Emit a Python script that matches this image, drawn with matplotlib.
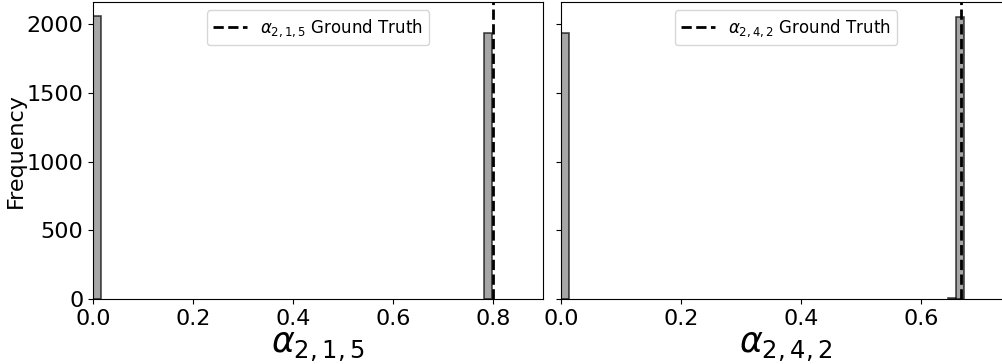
import matplotlib.pyplot as plt
import numpy as np

# histogram counts (bin left edges, counts) for the two sampled parameters
a215_bin_left = [0.0, 0.781]
a215_count = [2063, 1937]
a215_width = 0.016
a215_truth = 0.8

a242_bin_left = [0.0, 0.6447, 0.658]
a242_count = [1937, 5, 2057]
a242_width = 0.0134
a242_truth = 2 / 3

fig = plt.figure(figsize=(10.03, 3.64), dpi=100)
ax1 = fig.add_axes([0.0927, 0.1786, 0.4487, 0.816])
ax2 = fig.add_axes([0.5593, 0.1786, 0.4487, 0.816], sharey=ax1)

panels = [
    (ax1, a215_bin_left, a215_count, a215_width, a215_truth, r'$\alpha_{2,1,5}$', (0, 0.9)),
    (ax2, a242_bin_left, a242_count, a242_width, a242_truth, r'$\alpha_{2,4,2}$', (0, 0.75)),
]

for ax, lefts, counts, w, truth, name, xlim in panels:
    ax.bar(lefts, counts, width=w, align='edge', color='gray',
           edgecolor='black', alpha=0.7, linewidth=1.2)
    ax.axvline(truth, color='black', linestyle='--', linewidth=2,
               label=name + ' Ground Truth')
    ax.set_xlim(*xlim)
    ax.set_xlabel(name, fontsize=25, labelpad=1)
    ax.tick_params(labelsize=16)
    ax.legend(loc='upper center', fontsize=12)

ax1.set_ylabel('Frequency', fontsize=16)
ax1.yaxis.set_label_coords(-0.15, 0.5)
ax1.set_ylim(0, 2163)
ax2.tick_params(labelleft=False)
ax1.set_xticks(np.arange(0, 0.81, 0.2))
ax2.set_xticks(np.arange(0, 0.61, 0.2))

fig.savefig('out.png', dpi=100)
